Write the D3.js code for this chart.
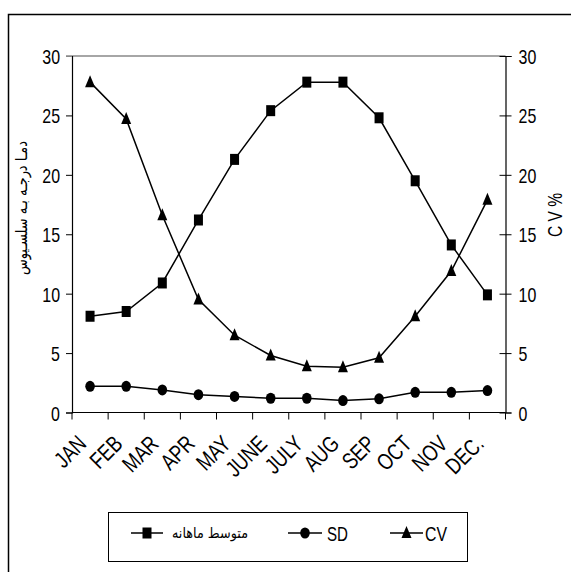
<!DOCTYPE html>
<html lang="fa">
<head>
<meta charset="utf-8">
<style>
  body { margin: 0; background: #fff; }
  svg text { font-family: "Liberation Sans", Arial, sans-serif; fill: #000; }
  .ar { font-family: "DejaVu Sans", "Noto Sans", sans-serif; }
</style>
</head>
<body>
<svg id="chart" width="571" height="572"></svg>
<script src="https://cdn.jsdelivr.net/npm/d3@7/dist/d3.min.js"></script>
<script>
    // data
    var months = ["JAN", "FEB", "MAR", "APR", "MAY", "JUNE", "JULY", "AUG", "SEP", "OCT", "NOV", "DEC."];
    var meanTemp = [8.1, 8.5, 10.9, 16.2, 21.3, 25.4, 27.8, 27.8, 24.8, 19.5, 14.1, 9.9];
    var sdVals = [2.2, 2.2, 1.9, 1.5, 1.35, 1.2, 1.2, 1.0, 1.15, 1.7, 1.7, 1.85];
    var cvVals = [27.8, 24.7, 16.6, 9.5, 6.5, 4.8, 3.9, 3.8, 4.6, 8.1, 11.9, 17.9];
    var yTicks = [0, 5, 10, 15, 20, 25, 30];
    var legendNames = ["متوسط ماهانه", "SD", "CV"];

    // squeeze text horizontally, the original uses a narrow font
    var condense = function (sel, factor) {
        sel.each(function () {
            var w = this.getComputedTextLength();
            d3.select(this).attr("textLength", w * factor).attr("lengthAdjust", "spacingAndGlyphs");
        });
    };

    var drawChart = function () {
        var svg = d3.select("#chart");

        // outer frame (runs off the page on right and bottom)
        svg.append("rect")
            .attr("x", 8.5).attr("y", 14.5)
            .attr("width", 600).attr("height", 600)
            .attr("fill", "none").attr("stroke", "#000").attr("stroke-width", 1.5);

        var pLeft = 72, pRight = 505.5, pTop = 56, pBottom = 412.5;

        var x = d3.scaleBand().domain(months).range([pLeft, pRight]);
        var y = d3.scaleLinear().domain([0, 30]).range([pBottom, pTop]);
        var cx = function (d, i) { return x(months[i]) + x.bandwidth() / 2; };

        // top border of plot area is grey
        svg.append("line")
            .attr("x1", pLeft - 6).attr("x2", pRight).attr("y1", pTop).attr("y2", pTop)
            .attr("stroke", "#888").attr("stroke-width", 1.5);

        // left axis
        var gl = svg.append("g").attr("transform", "translate(" + pLeft + ",0)")
            .call(d3.axisLeft(y).tickValues(yTicks).tickSize(6).tickPadding(6));
        // right axis, ticks cross the line
        var gr = svg.append("g").attr("transform", "translate(" + pRight + ",0)")
            .call(d3.axisRight(y).tickValues(yTicks).tickSize(6).tickPadding(7));
        gr.selectAll(".tick line").attr("x1", -6);

        // x axis: ticks at band boundaries
        var gx = svg.append("g").attr("transform", "translate(0," + pBottom + ")");
        gx.append("line").attr("x1", pLeft).attr("x2", pRight).attr("stroke", "#000").attr("stroke-width", 1.2);
        gx.selectAll("line.tk")
            .data(d3.range(months.length + 1))
            .enter().append("line")
            .attr("class", "tk")
            .attr("x1", function (d) { return pLeft + d * x.bandwidth(); })
            .attr("x2", function (d) { return pLeft + d * x.bandwidth(); })
            .attr("y1", 0).attr("y2", 7)
            .attr("stroke", "#000").attr("stroke-width", 1);

        [gl, gr].forEach(function (g) {
            g.select(".domain").attr("stroke", "#000").attr("stroke-width", 1.2);
            g.selectAll(".tick line").attr("stroke", "#000");
            g.selectAll(".tick text").attr("font-size", 21)
                .attr("font-family", "Liberation Sans, Arial, sans-serif")
                .attr("dy", "0.36em")
                .call(condense, 0.76);
        });
        gl.select(".tick:last-of-type line").attr("stroke", "#888");

        // month labels rotated
        svg.append("g").selectAll("text")
            .data(months)
            .enter().append("text")
            .attr("transform", function (d, i) {
                return "translate(" + (cx(d, i) - 14) + "," + (pBottom + 21) + ") rotate(-45)";
            })
            .attr("text-anchor", "end")
            .attr("dy", "0.72em")
            .attr("font-size", 23)
            .text(function (d) { return d; })
            .call(condense, 0.78);

        // axis titles
        svg.append("text")
            .attr("class", "ar")
            .attr("transform", "translate(22,208) rotate(-90)")
            .attr("text-anchor", "middle")
            .attr("dominant-baseline", "middle")
            .attr("font-size", 16)
            .attr("textLength", 134).attr("lengthAdjust", "spacingAndGlyphs")
            .text("دمـا درجـه بـه سلسـیوس");
        svg.append("text")
            .attr("transform", "translate(557,215) rotate(-90)")
            .attr("text-anchor", "middle")
            .attr("dominant-baseline", "middle")
            .attr("font-size", 20)
            .text("C V %")
            .call(condense, 0.78);

        var line = d3.line().x(cx).y(function (d) { return y(d); });

        var square = function (g, px, py) {
            g.append("rect").attr("x", px - 4.5).attr("y", py - 5.5)
                .attr("width", 9).attr("height", 11).attr("fill", "#000");
        };
        var circle = function (g, px, py) {
            g.append("ellipse").attr("cx", px).attr("cy", py)
                .attr("rx", 4.8).attr("ry", 5.5).attr("fill", "#000");
        };
        var triangle = function (g, px, py) {
            g.append("path")
                .attr("d", "M" + px + "," + (py - 7) + "L" + (px + 5) + "," + (py + 5) + "L" + (px - 5) + "," + (py + 5) + "Z")
                .attr("fill", "#000");
        };

        var drawSeries = function (vals, marker) {
            var g = svg.append("g");
            g.append("path").attr("d", line(vals))
                .attr("fill", "none").attr("stroke", "#000").attr("stroke-width", 1.5);
            vals.forEach(function (v, i) {
                marker(g, cx(v, i), y(v));
            });
        };

        drawSeries(meanTemp, square);
        drawSeries(sdVals, circle);
        drawSeries(cvVals, triangle);

        // legend
        var lg = svg.append("g");
        lg.append("rect").attr("x", 108.5).attr("y", 512.5).attr("width", 359).attr("height", 49)
            .attr("fill", "#fff").attr("stroke", "#000").attr("stroke-width", 1);
        var legendItems = [
            {sx: 131, ex: 163, tx: 172, marker: square, cls: "ar", size: 15, len: 76},
            {sx: 288, ex: 322, tx: 327, marker: circle, cls: "", size: 21, len: 21},
            {sx: 390, ex: 423, tx: 425, marker: triangle, cls: "", size: 21, len: 22}
        ];
        var ly = 533;
        legendItems.forEach(function (it, i) {
            lg.append("line").attr("x1", it.sx).attr("x2", it.ex).attr("y1", ly).attr("y2", ly)
                .attr("stroke", "#000").attr("stroke-width", 1.5);
            it.marker(lg, (it.sx + it.ex) / 2, ly);
            lg.append("text")
                .attr("class", it.cls)
                .attr("x", it.tx).attr("y", ly)
                .attr("dy", "0.36em")
                .attr("font-size", it.size)
                .attr("textLength", it.len).attr("lengthAdjust", "spacingAndGlyphs")
                .text(legendNames[i]);
        });
    };

    drawChart();
</script>
</body>
</html>
